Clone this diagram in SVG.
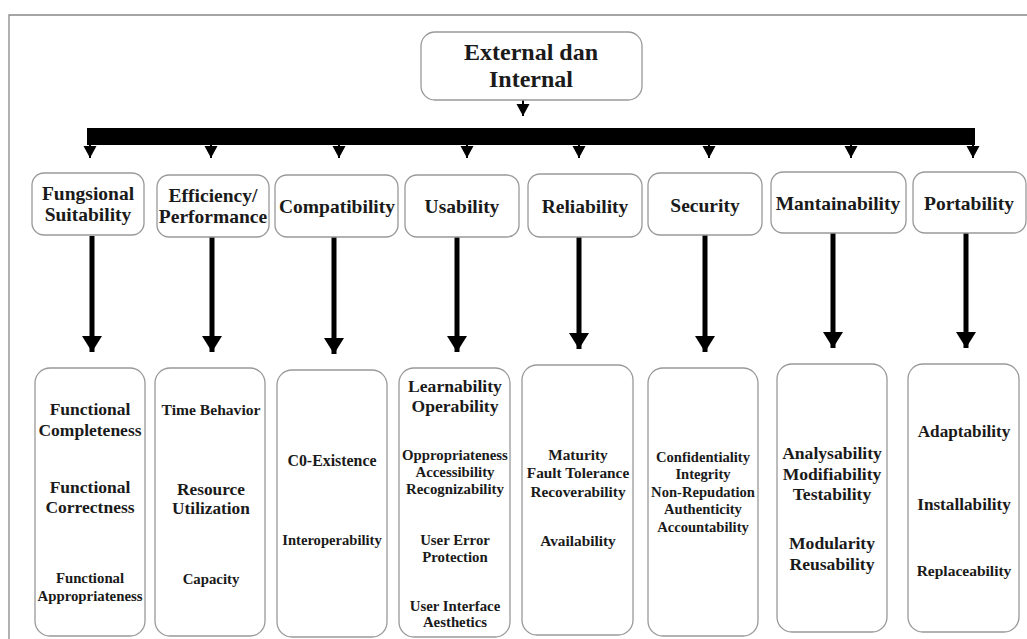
<svg xmlns="http://www.w3.org/2000/svg" width="1027" height="639" viewBox="0 0 1027 639">
<style>
.box{fill:#fff;stroke:#999;stroke-width:1.3}
.t{font-family:"Liberation Serif","Times New Roman",serif;font-weight:bold;fill:#1a1a1a;text-anchor:middle}
.top{font-size:24px}
.cat{font-size:19.5px}
.thin{stroke:#000;stroke-width:2;fill:none}
.thick{stroke:#000;stroke-width:5;fill:none}
</style>
<defs>
<marker id="ahb" markerUnits="userSpaceOnUse" markerWidth="22" markerHeight="18" viewBox="0 0 22 18" refX="11" refY="17" orient="0">
<path d="M1,1 L21,1 L11,17 Z" fill="#000"/>
</marker>
<marker id="aht" markerUnits="userSpaceOnUse" markerWidth="14" markerHeight="14" viewBox="0 0 14 14" refX="7" refY="13" orient="0">
<path d="M0.5,1 L13.5,1 L7,13 Z" fill="#000"/>
</marker>
</defs>
<rect width="1027" height="639" fill="#fff"/>
<g id="frame">
<path d="M9,639 L9,15 L1027,15" stroke="#888" stroke-width="1.3" fill="none"/>
</g>
<g id="connectors">
<rect x="87" y="128" width="888" height="17" fill="#000"/>
<path class="thin" d="M523,100 L523,116" marker-end="url(#aht)"/>
<path class="thin" d="M90,145 L90,158" marker-end="url(#aht)"/>
<path class="thin" d="M211,145 L211,158" marker-end="url(#aht)"/>
<path class="thin" d="M339,145 L339,158" marker-end="url(#aht)"/>
<path class="thin" d="M467,145 L467,158" marker-end="url(#aht)"/>
<path class="thin" d="M579,145 L579,158" marker-end="url(#aht)"/>
<path class="thin" d="M709,145 L709,158" marker-end="url(#aht)"/>
<path class="thin" d="M851,145 L851,158" marker-end="url(#aht)"/>
<path class="thin" d="M973,145 L973,158" marker-end="url(#aht)"/>
<path class="thick" d="M92,236 L92,352" marker-end="url(#ahb)"/>
<path class="thick" d="M212,237 L212,352" marker-end="url(#ahb)"/>
<path class="thick" d="M334,237 L334,354" marker-end="url(#ahb)"/>
<path class="thick" d="M457,237 L457,352" marker-end="url(#ahb)"/>
<path class="thick" d="M579,237 L579,349" marker-end="url(#ahb)"/>
<path class="thick" d="M705,235 L705,352" marker-end="url(#ahb)"/>
<path class="thick" d="M833,233 L833,348" marker-end="url(#ahb)"/>
<path class="thick" d="M966,233 L966,348" marker-end="url(#ahb)"/>
</g>
<g id="root">
<rect class="box" x="421" y="32" width="221" height="68" rx="14"/>
<text class="t top" x="531" y="60">External dan</text>
<text class="t top" x="531" y="87">Internal</text>
</g>
<g id="fungsional">
<rect class="box" x="32" y="173" width="112" height="62" rx="12"/>
<text class="t cat" x="88" y="200">Fungsional</text>
<text class="t cat" x="88" y="221">Suitability</text>
</g>
<g id="efficiency">
<rect class="box" x="157" y="175" width="112" height="62" rx="12"/>
<text class="t cat" x="213" y="202">Efficiency/</text>
<text class="t cat" x="213" y="223">Performance</text>
</g>
<g id="compatibility">
<rect class="box" x="275" y="175" width="123" height="62" rx="12"/>
<text class="t cat" x="337" y="213">Compatibility</text>
</g>
<g id="usability">
<rect class="box" x="405" y="175" width="114" height="62" rx="12"/>
<text class="t cat" x="462" y="213">Usability</text>
</g>
<g id="reliability">
<rect class="box" x="528" y="174" width="114" height="63" rx="12"/>
<text class="t cat" x="585" y="213">Reliability</text>
</g>
<g id="security">
<rect class="box" x="648" y="173" width="114" height="62" rx="12"/>
<text class="t cat" x="705" y="212">Security</text>
</g>
<g id="mantainability">
<rect class="box" x="771" y="172" width="135" height="61" rx="12"/>
<text class="t cat" x="838" y="210">Mantainability</text>
</g>
<g id="portability">
<rect class="box" x="913" y="172" width="113" height="61" rx="12"/>
<text class="t cat" x="969" y="210">Portability</text>
</g>
<g id="fungsional-sub">
<rect class="box" x="35" y="368" width="110" height="268" rx="15"/>
<text class="t" style="font-size:17.5px" x="90" y="415">Functional</text>
<text class="t" style="font-size:17.5px" x="90" y="436">Completeness</text>
<text class="t" style="font-size:17.5px" x="90" y="493">Functional</text>
<text class="t" style="font-size:17.5px" x="90" y="513">Correctness</text>
<text class="t" style="font-size:14.8px" x="90" y="583">Functional</text>
<text class="t" style="font-size:14.8px" x="90" y="601">Appropriateness</text>
</g>
<g id="efficiency-sub">
<rect class="box" x="155" y="368" width="110" height="268" rx="15"/>
<text class="t" style="font-size:15.6px" x="211" y="415">Time Behavior</text>
<text class="t" style="font-size:17.3px" x="211" y="495">Resource</text>
<text class="t" style="font-size:17.3px" x="211" y="514">Utilization</text>
<text class="t" style="font-size:14.8px" x="211" y="584">Capacity</text>
</g>
<g id="compatibility-sub">
<rect class="box" x="277" y="370" width="110" height="267" rx="15"/>
<text class="t" style="font-size:15.9px" x="332" y="466">C0-Existence</text>
<text class="t" style="font-size:14.6px" x="332" y="545">Interoperability</text>
</g>
<g id="usability-sub">
<rect class="box" x="399" y="368" width="111" height="269" rx="15"/>
<text class="t" style="font-size:17.6px" x="455" y="392">Learnability</text>
<text class="t" style="font-size:17.6px" x="455" y="412">Operability</text>
<text class="t" style="font-size:14.8px" x="455" y="460">Oppropriateness</text>
<text class="t" style="font-size:14.8px" x="455" y="477">Accessibility</text>
<text class="t" style="font-size:14.8px" x="455" y="494">Recognizability</text>
<text class="t" style="font-size:14.8px" x="455" y="545">User Error</text>
<text class="t" style="font-size:14.8px" x="455" y="562">Protection</text>
<text class="t" style="font-size:14.8px" x="455" y="611">User Interface</text>
<text class="t" style="font-size:14.8px" x="455" y="627">Aesthetics</text>
</g>
<g id="reliability-sub">
<rect class="box" x="522" y="365" width="111" height="270" rx="15"/>
<text class="t" style="font-size:15.3px" x="578" y="460">Maturity</text>
<text class="t" style="font-size:15.3px" x="578" y="478">Fault Tolerance</text>
<text class="t" style="font-size:15.3px" x="578" y="497">Recoverability</text>
<text class="t" style="font-size:15.3px" x="578" y="546">Availability</text>
</g>
<g id="security-sub">
<rect class="box" x="648" y="368" width="110" height="268" rx="15"/>
<text class="t" style="font-size:14.6px" x="703" y="462">Confidentiality</text>
<text class="t" style="font-size:14.6px" x="703" y="479">Integrity</text>
<text class="t" style="font-size:14.6px" x="703" y="497">Non-Repudation</text>
<text class="t" style="font-size:14.6px" x="703" y="514">Authenticity</text>
<text class="t" style="font-size:14.6px" x="703" y="532">Accountability</text>
</g>
<g id="mantainability-sub">
<rect class="box" x="777" y="364" width="110" height="268" rx="15"/>
<text class="t" style="font-size:17.6px" x="832" y="459">Analysability</text>
<text class="t" style="font-size:17.6px" x="832" y="480">Modifiability</text>
<text class="t" style="font-size:17.6px" x="832" y="500">Testability</text>
<text class="t" style="font-size:17.6px" x="832" y="549">Modularity</text>
<text class="t" style="font-size:17.6px" x="832" y="570">Reusability</text>
</g>
<g id="portability-sub">
<rect class="box" x="908" y="364" width="111" height="268" rx="15"/>
<text class="t" style="font-size:17.2px" x="964" y="437">Adaptability</text>
<text class="t" style="font-size:17.2px" x="964" y="510">Installability</text>
<text class="t" style="font-size:15.5px" x="964" y="576">Replaceability</text>
</g>
</svg>
